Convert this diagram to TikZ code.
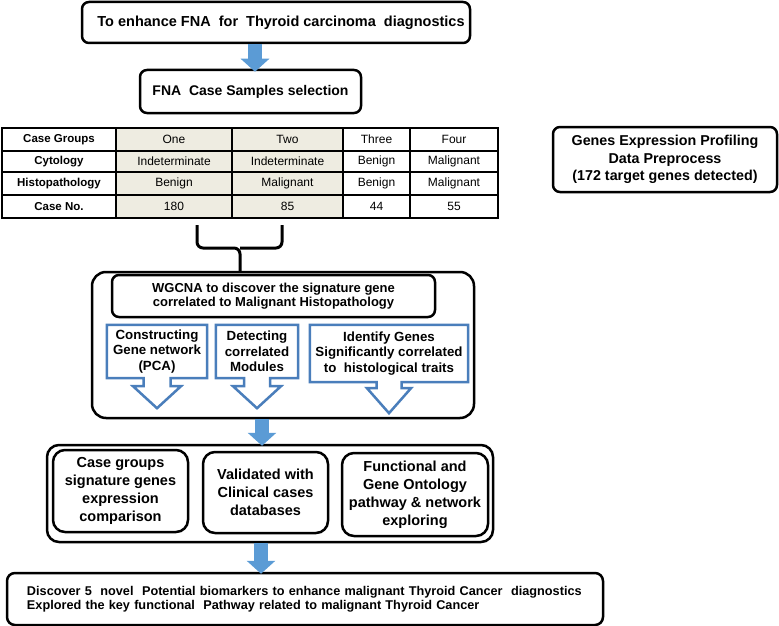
\documentclass[tikz,border=0pt]{standalone}
\usepackage{fontspec}
\setmainfont{Liberation Sans}
\usetikzlibrary{arrows.meta,calc}
\definecolor{arrowblue}{HTML}{5B9BD5}
\definecolor{calloutblue}{HTML}{4A7EBB}
\definecolor{cellgray}{HTML}{EEECE1}
\newcommand{\mycallout}[5]{%
\draw[callout] (#1.north west) -- (#1.north east) -- (#1.south east)
 -- ([xshift=#2]#1.south) -- ([xshift=#2,yshift=-#4]#1.south)
 -- ([xshift=#3,yshift=-#4]#1.south) -- ([yshift=-#5]#1.south)
 -- ([xshift=-#3,yshift=-#4]#1.south) -- ([xshift=-#2,yshift=-#4]#1.south)
 -- ([xshift=-#2]#1.south) -- (#1.south west) -- cycle;}
\tikzset{
  rbox/.style={draw=black, line width=2.5pt, rounded corners=7pt, inner sep=0pt, align=center, font=\bfseries},
  bigbox/.style={draw=black, line width=2.5pt, rounded corners=14pt, inner sep=0pt},
  callout/.style={draw=calloutblue, line width=2.5pt, fill=white, line join=miter},
  ctext/.style={inner sep=0pt, align=center, font=\fontsize{13.3}{15.5}\selectfont\bfseries},
  flowarrow/.style={draw=arrowblue, line width=14pt, -{Triangle[length=13pt,width=28pt,fill=arrowblue]}},
  cell/.style={inner sep=0pt, font=\fontsize{12}{13}\selectfont},
  hcell/.style={inner sep=0pt, font=\fontsize{11.5}{13}\selectfont\bfseries},
  bracket/.style={line width=3pt, rounded corners=6pt}
}
\begin{document}
\begin{tikzpicture}[x=1pt,y=-1pt]
\useasboundingbox (0,0) rectangle (779,626);

% top boxes
\node[rbox, minimum width=388pt, minimum height=41pt, font=\fontsize{14.5}{17}\selectfont\bfseries] (goal) at (276,22.5)
  {\hspace{10pt}To enhance FNA\ \ for\ \ Thyroid carcinoma\ \ diagnostics};
\node[rbox, minimum width=221pt, minimum height=43pt, font=\fontsize{14}{17}\selectfont\bfseries] (sel) at (250.5,91.5)
  {FNA\ \ Case Samples selection};
\draw[flowarrow] ([xshift=-21pt]goal.south) -- ([xshift=4.5pt,yshift=-3pt]sel.north);

% table
\fill[cellgray] (116,128) rectangle (343,218);
\draw[line width=1.5pt] (1.5,151) -- (498,151) (1.5,172) -- (498,172) (1.5,195) -- (498,195)
  (116,128) -- (116,218) (232,128) -- (232,218) (343,128) -- (343,218) (410,128) -- (410,218);
\draw[line width=2pt] (1.5,128) rectangle (498,218);
\node[hcell] (h1) at (59,139.5) {Case Groups};
\node[hcell] (h2) at (59,161.5) {Cytology};
\node[hcell] (h3) at (59,183.5) {Histopathology};
\node[hcell] (h4) at (59,206.5) {Case No.};
\node[cell] (a1) at (174,139.5) {One};
\node[cell] (a2) at (174,161.5) {Indeterminate};
\node[cell] (a3) at (174,183.5) {Benign};
\node[cell] (a4) at (174,206.5) {180};
\node[cell] (b1) at (287.5,139.5) {Two};
\node[cell] (b2) at (287.5,161.5) {Indeterminate};
\node[cell] (b3) at (287.5,183.5) {Malignant};
\node[cell] (b4) at (287.5,206.5) {85};
\node[cell] (c1) at (376.5,139.5) {Three};
\node[cell] (c2) at (376.5,161.5) {Benign};
\node[cell] (c3) at (376.5,183.5) {Benign};
\node[cell] (c4) at (376.5,206.5) {44};
\node[cell] (d1) at (454,139.5) {Four};
\node[cell] (d2) at (454,161.5) {Malignant};
\node[cell] (d3) at (454,183.5) {Malignant};
\node[cell] (d4) at (454,206.5) {55};

% right box
\node[rbox, minimum width=224pt, minimum height=65pt, font=\fontsize{14.3}{17.5}\selectfont\bfseries] (prep) at (665,159.5)
  {Genes Expression Profiling\\Data Preprocess\\(172 target genes detected)};

% WGCNA group
\node[bigbox, minimum width=382pt, minimum height=146pt] (wg) at (283,345) {};
\node[rbox, minimum width=323pt, minimum height=42pt, font=\fontsize{13}{14.5}\selectfont\bfseries] (wgh) at (273.5,296)
  {WGCNA to discover the signature gene\\correlated to Malignant Histopathology};

% bracket
\coordinate (bl) at (197,225);
\coordinate (br) at (282,225);
\coordinate (bm) at (240,248);
\draw[bracket] (bl) |- (bm) -- (bm |- wg.north);
\draw[bracket] (br) |- (bm);

% callouts
\node[ctext, minimum width=100pt, minimum height=53pt] (k1) at (157,351.5) {};
\node[ctext, minimum width=82pt, minimum height=53pt] (k2) at (257,351.5) {};
\node[ctext, minimum width=158pt, minimum height=57pt] (k3) at (389,353.5) {};
\mycallout{k1}{13.5pt}{24pt}{8pt}{30pt}
\mycallout{k2}{13pt}{24pt}{8pt}{30pt}
\mycallout{k3}{12.5pt}{22pt}{6pt}{31pt}
\node[ctext] (k1t) at (k1) {Constructing\\Gene network\\(PCA)};
\node[ctext] (k2t) at (k2) {Detecting\\correlated\\Modules};
\node[ctext] (k3t) at (k3) {Identify Genes\\Significantly correlated\\to\ \ histological traits};

% second group
\node[bigbox, rounded corners=12pt, minimum width=446pt, minimum height=97pt] (val) at (270,493.5) {};
\draw[flowarrow] ([xshift=-21pt]wg.south) -- ([xshift=-8pt,yshift=-2pt]val.north);
\node[rbox, rounded corners=12pt, minimum width=135pt, minimum height=82pt, font=\fontsize{14.5}{18}\selectfont\bfseries] (v1) at (120.5,491)
  {Case groups\\signature genes\\expression\\comparison};
\node[rbox, rounded corners=12pt, minimum width=125pt, minimum height=81pt, font=\fontsize{14.5}{18}\selectfont\bfseries] (v2) at (265.5,492.5)
  {Validated with\\Clinical cases\\databases};
\node[rbox, rounded corners=12pt, minimum width=146pt, minimum height=83pt, font=\fontsize{14.5}{18}\selectfont\bfseries] (v3) at (415,494.5)
  {Functional and\\Gene Ontology\\pathway \& network\\exploring};

% bottom box
\node[rbox, rounded corners=8pt, minimum height=52pt, text width=556pt, inner xsep=20pt, align=left, font=\fontsize{12.7}{14}\selectfont\bfseries] (res) at (305,599)
  {Discover 5\ \ novel\ \ Potential biomarkers to enhance malignant Thyroid Cancer\ \ diagnostics\\
   Explored the key functional\ \ Pathway related to malignant Thyroid Cancer};
\draw[flowarrow] ([xshift=-9pt]val.south) -- ([xshift=-44pt,yshift=-2pt]res.north);
\end{tikzpicture}
\end{document}
